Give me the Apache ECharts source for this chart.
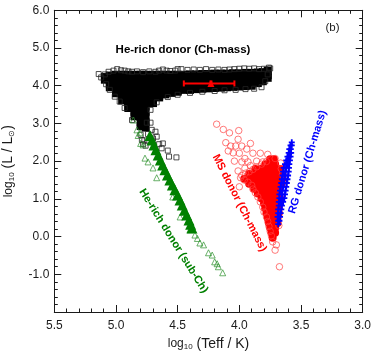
<!DOCTYPE html>
<html><head><meta charset="utf-8">
<style>html,body{margin:0;padding:0;background:#fff}#c{width:374px;height:351px}</style>
<script src="https://cdn.jsdelivr.net/npm/echarts@6/dist/echarts.min.js"></script>
</head><body><div id="c"></div>
<script>
const xTicks=[5.5,5.0,4.5,4.0,3.5,3.0];
const blackCoreColumns=[
[5.09,[4.23,4.16]],
[5.05,[4.27,4.15,4.03,3.96]],
[5.00,[4.29,4.15,4.01,3.87,3.80]],
[4.95,[4.29,4.15,4.01,3.87,3.73,3.61]],
[4.90,[4.29,4.15,4.01,3.87,3.73,3.59,3.45,3.41]],
[4.85,[4.29,4.15,4.01,3.87,3.73,3.59,3.45,3.31,3.19]],
[4.80,[4.29,4.15,4.01,3.87,3.73,3.59,3.45,3.31,3.17,3.03,2.93]],
[4.76,[4.29,4.15,4.01,3.87,3.73,3.59,3.45,3.31,3.17,3.03,2.89]],
[4.70,[4.29,4.15,4.01,3.87,3.73,3.54]],
[4.65,[4.29,4.15,4.01,3.87,3.73,3.69]],
[4.60,[4.29,4.15,4.01,3.87,3.77]],
[4.55,[4.29,4.15,4.01,3.87,3.81]],
[4.50,[4.29,4.15,4.01,3.87,3.84]],
[4.45,[4.29,4.15,4.01,3.89]],
[4.40,[4.30,4.16,4.02,3.89]],
[4.35,[4.30,4.16,4.02,3.91]],
[4.30,[4.31,4.17,4.03,3.92]],
[4.25,[4.31,4.17,4.03,3.93]],
[4.20,[4.32,4.18,4.04,3.94]],
[4.15,[4.32,4.18,4.04,3.95]],
[4.10,[4.32,4.18,4.04,3.96]],
[4.05,[4.33,4.19,4.05,3.97]],
[4.00,[4.33,4.19,4.05,3.98]],
[3.95,[4.34,4.20,4.06,3.99]],
[3.90,[4.34,4.20,4.06,4.00]],
[3.85,[4.35,4.21,4.07]],
[3.81,[4.36,4.24,4.12]],
[3.77,[4.40,4.28,4.21]]
];
const blackOpen=[[5.14,4.31],[5.12,4.22],[5.09,4.30],[5.08,4.04],[5.05,3.89],[5.01,3.71],[4.97,3.58],[5.06,4.37],[5.02,4.40],[4.99,4.44],[4.96,4.41],[4.93,4.40],[4.90,4.38],[4.87,4.37],[4.83,4.38],[4.78,4.36],[4.73,4.38],[4.68,4.37],[4.65,4.40],[4.62,4.43],[4.59,4.40],[4.56,4.39],[4.52,4.40],[4.50,4.44],[4.47,4.44],[4.42,4.42],[4.37,4.43],[4.32,4.42],[4.27,4.44],[4.22,4.42],[4.17,4.43],[4.12,4.42],[4.08,4.43],[4.04,4.44],[4.00,4.45],[3.96,4.46],[3.92,4.45],[3.88,4.46],[3.84,4.44],[3.80,4.45],[3.76,4.48],[3.75,4.46],[3.77,4.30],[3.79,4.12],[3.82,3.96],[3.88,3.92],[3.95,3.91],[4.03,3.89],[4.12,3.88],[4.20,3.86],[4.30,3.84],[4.40,3.81],[4.50,3.76],[4.58,3.70],[4.67,3.56],[4.72,3.36],[4.75,3.02],[4.87,3.09],[4.93,3.41],[4.72,3.02],[4.79,2.56],[4.76,2.41],[4.71,2.83],[4.68,2.78],[4.67,2.65],[4.65,2.45],[4.62,2.47],[4.63,2.34],[4.58,2.28],[4.57,2.12],[4.51,2.10],[4.74,2.72],[4.80,2.70],[4.70,2.60],[4.77,2.55],[4.78,2.45]];
const greenBand=[[4.725,2.68],[4.708,2.56],[4.692,2.43],[4.676,2.30],[4.658,2.16],[4.640,2.03],[4.622,1.90],[4.603,1.77],[4.583,1.63],[4.563,1.50],[4.543,1.37],[4.522,1.24],[4.501,1.10],[4.481,0.97],[4.463,0.84],[4.445,0.70],[4.427,0.57],[4.408,0.44],[4.395,0.33],[4.384,0.23]];
const greenOpen=[[4.86,3.09],[4.83,2.83],[4.805,2.75],[4.82,2.68],[4.78,2.43],[4.80,2.47],[4.765,2.08],[4.74,1.98],[4.70,1.82],[4.67,1.56],[4.54,1.05],[4.48,0.52],[4.40,0.18],[4.36,0.04],[4.34,-0.05],[4.32,-0.17],[4.29,-0.22],[4.25,-0.43],[4.22,-0.49],[4.20,-0.67],[4.18,-0.72],[4.17,-0.80],[4.135,-0.96]];
const redCoreRows=[
[2.05,[3.75,3.72]],
[1.92,[3.79,3.75,3.71]],
[1.79,[3.87,3.83,3.79,3.75,3.71,3.67]],
[1.66,[3.92,3.88,3.84,3.80,3.76,3.72,3.68,3.65]],
[1.53,[3.96,3.92,3.88,3.84,3.80,3.76,3.72,3.68,3.65]],
[1.40,[3.92,3.88,3.84,3.80,3.76,3.72,3.68,3.66]],
[1.27,[3.88,3.84,3.80,3.76,3.72,3.68]],
[1.14,[3.85,3.81,3.77,3.73,3.69]],
[1.01,[3.82,3.78,3.74,3.70,3.67]],
[0.88,[3.80,3.76,3.72,3.68]],
[0.75,[3.79,3.75,3.71,3.68]],
[0.62,[3.78,3.74,3.70,3.68]],
[0.49,[3.77,3.73,3.69]],
[0.36,[3.76,3.72,3.69]],
[0.23,[3.75,3.71]],
[0.10,[3.74,3.71]],
[-0.03,[3.73]]
];
const redOpen=[[4.184,2.98],[4.13,2.84],[4.08,2.75],[4.005,2.81],[4.01,2.58],[4.11,2.49],[4.07,2.40],[4.03,2.40],[3.98,2.40],[3.91,2.47],[4.09,2.27],[4.05,2.22],[4.00,2.21],[3.94,2.32],[3.89,2.21],[3.83,2.21],[3.77,2.18],[4.04,2.00],[3.955,2.07],[3.98,1.98],[3.93,1.98],[3.86,2.00],[4.01,1.74],[3.955,1.81],[3.91,1.88],[3.81,1.98],[3.71,2.07],[4.00,1.32],[3.98,1.62],[3.95,1.68],[3.92,1.72],[3.89,1.78],[3.86,1.85],[3.82,1.92],[3.78,1.99],[3.99,1.56],[3.96,1.50],[3.93,1.44],[3.90,1.36],[3.89,1.26],[3.87,1.16],[3.85,1.05],[3.83,0.92],[3.81,0.78],[3.80,0.65],[3.78,0.52],[3.77,0.40],[3.76,0.27],[3.75,0.14],[3.74,0.02],[3.73,-0.14],[3.70,-0.22],[3.71,-0.36],[3.675,-0.80],[3.68,0.29],[3.665,1.95],[3.66,1.80],[3.65,1.65]];
const bluePlus=[[3.685,0.33],[3.685,0.42],[3.675,0.42],[3.69,0.52],[3.67,0.52],[3.685,0.62],[3.665,0.62],[3.685,0.72],[3.66,0.72],[3.68,0.82],[3.655,0.82],[3.68,0.92],[3.665,0.92],[3.645,0.92],[3.675,1.02],[3.655,1.02],[3.635,1.02],[3.675,1.12],[3.655,1.12],[3.63,1.12],[3.67,1.22],[3.65,1.22],[3.625,1.22],[3.665,1.32],[3.645,1.32],[3.62,1.32],[3.66,1.42],[3.64,1.42],[3.615,1.42],[3.655,1.52],[3.635,1.52],[3.61,1.52],[3.65,1.62],[3.63,1.62],[3.605,1.62],[3.645,1.72],[3.625,1.72],[3.60,1.72],[3.64,1.82],[3.62,1.82],[3.598,1.82],[3.63,1.92],[3.612,1.92],[3.595,1.92],[3.62,2.02],[3.605,2.02],[3.59,2.02],[3.61,2.12],[3.598,2.12],[3.585,2.12],[3.60,2.22],[3.59,2.22],[3.58,2.22],[3.595,2.32],[3.583,2.32],[3.585,2.42],[3.575,2.42],[3.575,2.50]];
const errorX=[[4.45,4.06],[4.04,4.06]];
const errorY=[[4.23,3.98],[4.23,4.14]];
const errorCentre=[[4.23,4.06]];

const expand=(cols,xFirst)=>cols.flatMap(c=>c[1].map(v=>xFirst?[c[0],v]:[v,c[0]]));
const black='#000',green='#008000',red='#ff0000',blue='#0000ff',ink='#1a1a1a';
const base={type:'value',splitLine:{show:false},axisLine:{show:true,onZero:false,lineStyle:{color:ink,width:1}},
 axisTick:{show:true,inside:true,length:7,lineStyle:{color:ink,width:1}},
 minorTick:{show:true,splitNumber:5,length:3.5,lineStyle:{color:ink,width:1}},
 axisLabel:{show:false}};
const lbl={show:true,color:ink,fontFamily:'Liberation Sans',fontSize:12};
const xCfg={min:3,max:5.5,interval:0.5,inverse:true};
const yCfg={min:-2,max:6,interval:1};
const rich={a:{fontFamily:'Liberation Sans',fontSize:12,color:ink},
 s:{fontFamily:'Liberation Sans',fontSize:8,color:ink,verticalAlign:'bottom',padding:[5,0,0,0]},
 b:{fontFamily:'Liberation Sans',fontSize:14,color:ink}};
const option={
 animation:false,backgroundColor:'#fff',
 grid:{left:54.3,right:11.3,top:10.3,bottom:39,containLabel:false,outerBoundsMode:'none'},
 xAxis:[
  {...base,...xCfg,position:'bottom',axisLabel:{...lbl,margin:8,formatter:v=>xTicks.includes(v)?v.toFixed(1):''},
   name:'{a|log}{s|10}{b| (Teff / K)}',nameLocation:'middle',nameGap:25,nameTextStyle:{rich}},
  {...base,...xCfg,position:'top'}],
 yAxis:[
  {...base,...yCfg,position:'left',axisLabel:{...lbl,margin:5,formatter:v=>v===-2?'':v.toFixed(1)},
   name:'{a|log}{s|10}{b| (L / L}{s|\u2299}{b|)}',nameLocation:'middle',nameGap:39,nameRotate:90,nameTextStyle:{rich}},
  {...base,...yCfg,position:'right'}],
 series:[
  {type:'scatter',data:expand(blackCoreColumns,true),symbol:'rect',symbolSize:8,itemStyle:{color:black,opacity:1},z:2},
  {type:'scatter',data:blackOpen,symbol:'rect',symbolSize:5,itemStyle:{color:'rgba(0,0,0,0)',borderColor:'#222',borderWidth:0.8,opacity:1},z:2},
  {type:'scatter',data:greenOpen,symbol:'triangle',symbolSize:6,itemStyle:{color:'rgba(0,0,0,0)',borderColor:'#2a8f2a',borderWidth:0.7,opacity:1},z:3},
  {type:'scatter',data:greenBand,symbol:'triangle',symbolSize:11,itemStyle:{color:green,opacity:1},z:3},
  {type:'scatter',data:expand(redCoreRows,false),symbol:'circle',symbolSize:8,itemStyle:{color:red,opacity:1},z:4},
  {type:'scatter',data:redOpen,symbol:'circle',symbolSize:6.5,itemStyle:{color:'rgba(0,0,0,0)',borderColor:'#ff4040',borderWidth:0.7,opacity:1},z:4},
  {type:'scatter',data:bluePlus,symbol:'path://M3.5 0h3v3.5h3.5v3h-3.5v3.5h-3v-3.5h-3.5v-3h3.5z',symbolSize:6,itemStyle:{color:blue,opacity:1},z:5},
  {type:'line',data:errorX,symbol:'none',lineStyle:{color:red,width:2},z:6},
  {type:'line',data:errorY,symbol:'none',lineStyle:{color:red,width:3},z:6},
  {type:'scatter',data:errorX,symbol:'rect',symbolSize:[2,6],itemStyle:{color:red,opacity:1},z:6},
  {type:'scatter',data:errorCentre,symbol:'triangle',symbolSize:7,itemStyle:{color:red,opacity:1},z:6}
 ],
 graphic:[
  {type:'text',x:183,y:50,z:20,style:{text:'He-rich donor (Ch-mass)',fontFamily:'Liberation Sans',fontWeight:'bold',fontSize:11.5,fill:'#000',align:'center',verticalAlign:'middle'}},
  {type:'text',x:332.5,y:27.5,z:20,style:{text:'(b)',fontFamily:'Liberation Sans',fontSize:11.5,fill:ink,align:'center',verticalAlign:'middle'}},
  {type:'text',x:173.5,y:241,z:20,rotation:-58*Math.PI/180,style:{text:'He-rich donor (sub-Ch)',fontFamily:'Liberation Sans',fontWeight:'bold',fontSize:11,fill:green,align:'center',verticalAlign:'middle'}},
  {type:'text',x:239.5,y:203,z:20,rotation:-63*Math.PI/180,style:{text:'MS donor (Ch-mass)',fontFamily:'Liberation Sans',fontWeight:'bold',fontSize:11,fill:red,align:'center',verticalAlign:'middle'}},
  {type:'text',x:307.5,y:162,z:20,rotation:73*Math.PI/180,style:{text:'RG donor (Ch-mass)',fontFamily:'Liberation Sans',fontWeight:'bold',fontSize:11,fill:blue,align:'center',verticalAlign:'middle'}}
 ]
};
echarts.init(document.getElementById('c'),null,{renderer:'canvas'}).setOption(option);
</script></body></html>
